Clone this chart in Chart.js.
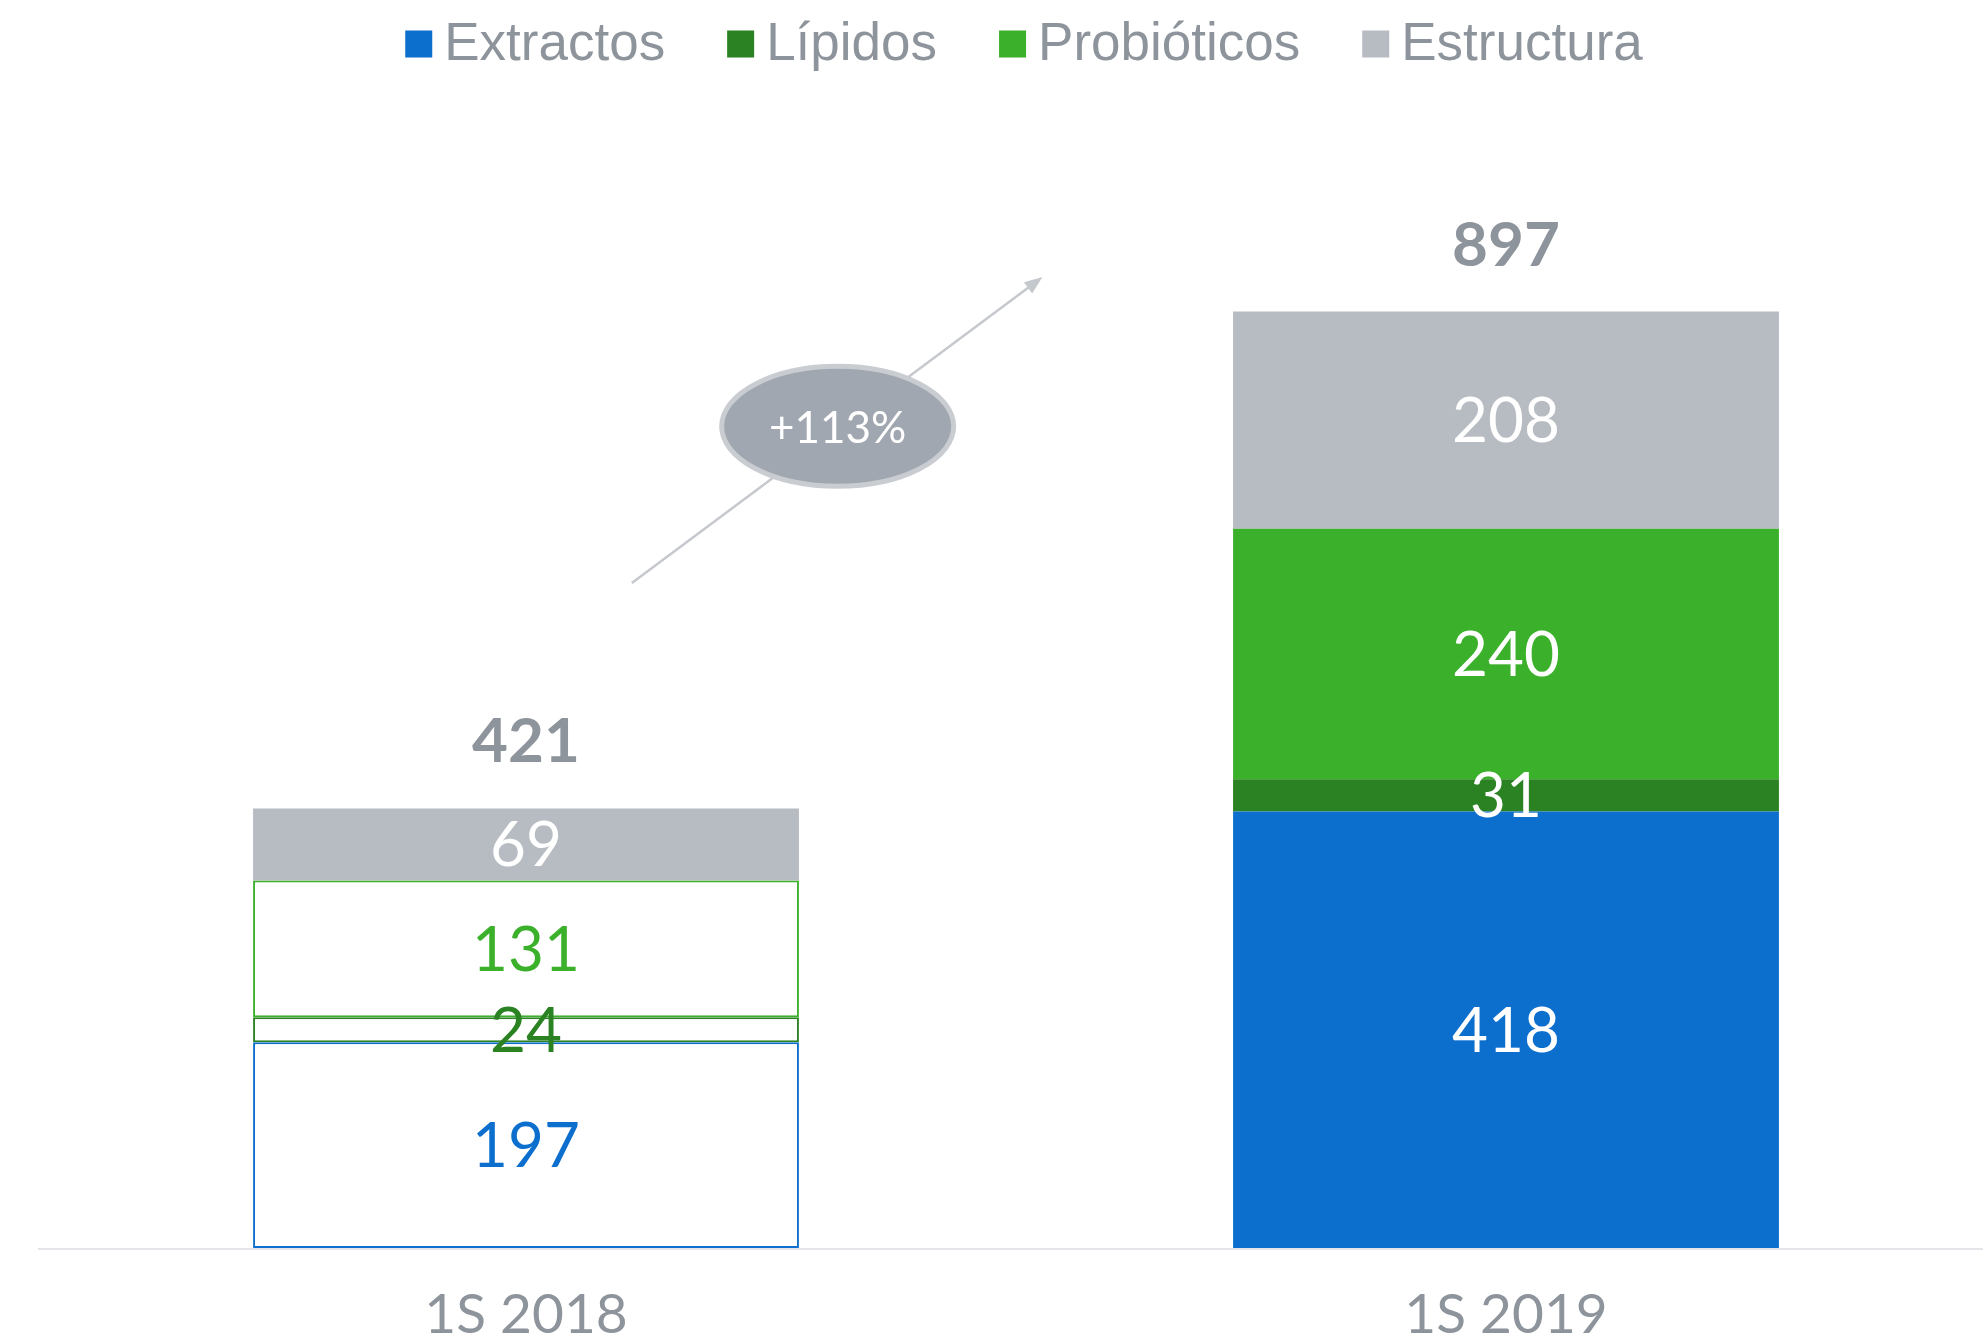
<!DOCTYPE html>
<html lang="es">
<head>
<meta charset="utf-8">
<title>Ventas 1S 2018 vs 1S 2019</title>
<script src="https://cdn.jsdelivr.net/npm/chart.js@4.4.1/dist/chart.umd.min.js"></script>
<style>
    body { margin: 0; background: #fff; overflow: hidden; }
    #contenedor { width: 1996px; height: 1338px; }
</style>
</head>
<body>
<div id="contenedor">
    <canvas id="grafica" width="1996" height="1338"></canvas>
</div>
<script>
// ============================
// DATOS
// ============================

const categorias = ["1S 2018", "1S 2019"];
const series = ["Extractos", "Lípidos", "Probióticos", "Estructura"];
const extractos = [197, 418];
const lipidos = [24, 31];
const probioticos = [131, 240];
const estructura = [69, 208];
const totales = [421, 897];
const crecimiento = "+113%";

const AZUL = "#0c6fce";
const VERDE_OSCURO = "#2a8223";
const VERDE = "#3bb02a";
const GRIS = "#b7bbc2";
const TEXTO = "#8e949b";
const BLANCO = "#ffffff";


// ============================
// PLUGIN: etiquetas, leyenda y flecha
// ============================

const etiquetas = {
    id: "etiquetas",
    beforeDraw(chart) {
        // línea base
        const c = chart.ctx;
        const area = chart.chartArea;
        c.save();
        c.strokeStyle = "#e3e5e8";
        c.lineWidth = 2;
        c.beginPath();
        c.moveTo(38, area.bottom + 1);
        c.lineTo(chart.width, area.bottom + 1);
        c.stroke();
        c.restore();
    },
    afterDatasetsDraw(chart) {

        const c = chart.ctx;
        const xs = chart.scales.x;
        const ys = chart.scales.y;

        // valores dentro de cada tramo
        chart.data.datasets.forEach((ds, i) => {
            const meta = chart.getDatasetMeta(i);
            meta.data.forEach((bar, j) => {
                c.save();
                c.font = "400 62px Lato";
                c.fillStyle = ds.colorEtiqueta[j];
                c.textAlign = "center";
                c.textBaseline = "middle";
                c.fillText(ds.data[j], bar.x, (bar.y + bar.base) / 2 + 2);
                c.restore();
            });
        });

        // totales encima de cada barra
        const ultima = chart.getDatasetMeta(chart.data.datasets.length - 1);
        ultima.data.forEach((bar, j) => {
            c.save();
            c.font = "700 62px Lato";
            c.fillStyle = TEXTO;
            c.textAlign = "center";
            c.textBaseline = "middle";
            c.fillText(totales[j], bar.x, bar.y - 66);
            c.restore();
        });

        // flecha de crecimiento
        const x0 = xs.getPixelForValue(0);
        const paso = xs.getPixelForValue(1) - x0;
        const ax = x0 + paso * 0.108, ay = ys.getPixelForValue(637);
        const bx = x0 + paso * 0.527, by = ys.getPixelForValue(930);
        const ang = Math.atan2(by - ay, bx - ax);

        c.save();
        c.strokeStyle = "#c5c9ce";
        c.fillStyle = "#c5c9ce";
        c.lineWidth = 2.5;
        c.beginPath();
        c.moveTo(ax, ay);
        c.lineTo(bx - 12 * Math.cos(ang), by - 12 * Math.sin(ang));
        c.stroke();
        c.beginPath();
        c.moveTo(bx, by);
        c.lineTo(bx - 18 * Math.cos(ang) + 7 * Math.sin(ang), by - 18 * Math.sin(ang) - 7 * Math.cos(ang));
        c.lineTo(bx - 18 * Math.cos(ang) - 7 * Math.sin(ang), by - 18 * Math.sin(ang) + 7 * Math.cos(ang));
        c.closePath();
        c.fill();

        // elipse con el porcentaje
        const ex = x0 + paso * 0.318, ey = ys.getPixelForValue(787);
        c.beginPath();
        c.ellipse(ex, ey, 116, 60, 0, 0, Math.PI * 2);
        c.fillStyle = "#a1a7b0";
        c.fill();
        c.lineWidth = 5;
        c.strokeStyle = "#c9cdd2";
        c.stroke();
        c.font = "400 44px Lato";
        c.fillStyle = BLANCO;
        c.textAlign = "center";
        c.textBaseline = "middle";
        c.fillText(crecimiento, ex, ey + 2);
        c.restore();

        // leyenda
        c.save();
        c.font = "53px 'Liberation Sans'";
        const caja = 27, hueco = 12, sep = 62;
        const anchos = chart.data.datasets.map(ds => c.measureText(ds.label).width);
        const total = anchos.reduce((a, w) => a + caja + hueco + w, 0) + sep * (anchos.length - 1);
        let x = 1024 - total / 2;
        const yl = 44;
        chart.data.datasets.forEach((ds, i) => {
            c.fillStyle = ds.colorLeyenda;
            c.fillRect(x, yl - caja / 2, caja, caja);
            c.fillStyle = TEXTO;
            c.textAlign = "left";
            c.textBaseline = "middle";
            c.fillText(ds.label, x + caja + hueco, yl + 1);
            x += caja + hueco + anchos[i] + sep;
        });
        c.restore();
    }
};


// ============================
// GRÁFICA
// ============================

const ctx = document.getElementById("grafica").getContext("2d");

new Chart(ctx, {
    type: "bar",
    data: {
        labels: categorias,
        datasets: [
            {
                label: series[0],
                data: extractos,
                backgroundColor: [BLANCO, AZUL],
                borderColor: AZUL,
                borderWidth: [2, 0],
                colorLeyenda: AZUL,
                colorEtiqueta: [AZUL, BLANCO]
            },
            {
                label: series[1],
                data: lipidos,
                backgroundColor: [BLANCO, VERDE_OSCURO],
                borderColor: VERDE_OSCURO,
                borderWidth: [2, 0],
                colorLeyenda: VERDE_OSCURO,
                colorEtiqueta: [VERDE_OSCURO, BLANCO]
            },
            {
                label: series[2],
                data: probioticos,
                backgroundColor: [BLANCO, VERDE],
                borderColor: VERDE,
                borderWidth: [2, 0],
                colorLeyenda: VERDE,
                colorEtiqueta: [VERDE, BLANCO]
            },
            {
                label: series[3],
                data: estructura,
                backgroundColor: GRIS,
                borderWidth: 0,
                colorLeyenda: GRIS,
                colorEtiqueta: [BLANCO, BLANCO]
            }
        ]
    },
    options: {
        responsive: false,
        animation: false,
        events: [],
        layout: {
            padding: { top: 204, left: 36, right: 0, bottom: 0 }
        },
        datasets: {
            bar: {
                categoryPercentage: 1,
                barPercentage: 0.557,
                borderSkipped: false
            }
        },
        plugins: {
            legend: { display: false },
            tooltip: { enabled: false }
        },
        scales: {
            x: {
                stacked: true,
                grid: { display: false, drawTicks: false },
                border: { display: false },
                ticks: {
                    color: TEXTO,
                    font: { family: "Lato", size: 55 },
                    padding: 34
                },
                afterFit: (s) => { s.height = 90; }
            },
            y: {
                stacked: true,
                display: false,
                min: 0,
                max: 1000
            }
        }
    },
    plugins: [etiquetas]
});
</script>
</body>
</html>
